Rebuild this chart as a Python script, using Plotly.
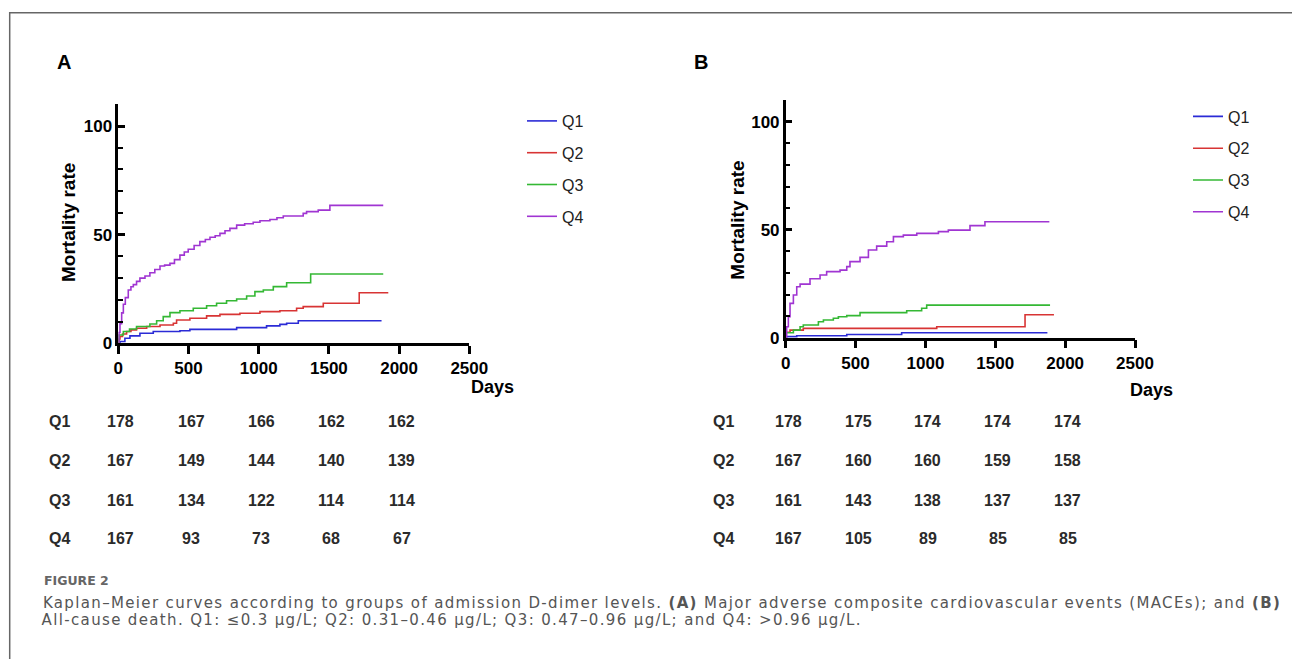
import plotly.graph_objects as go

W, H = 1292, 659

# ---------------- data ----------------
groups = ["Q1", "Q2", "Q3", "Q4"]
colors = ["#2b2bd6", "#d83434", "#34b834", "#a035d2"]

# Panel A (MACEs)
a_q1_days = [0, 12, 47, 83, 154, 249, 439, 510, 843, 1056, 1151, 1199, 1282, 1875]
a_q1_rate = [0, 0.8, 2.3, 3.4, 4.6, 5.4, 5.8, 6.4, 7.2, 8.0, 8.7, 9.2, 10.4, 10.4]
a_q2_days = [0, 5, 12, 30, 59, 90, 130, 202, 297, 392, 415, 510, 629, 724, 866, 1009, 1151, 1270, 1317, 1460, 1716, 1923]
a_q2_rate = [0, 2.0, 3.1, 4.3, 5.4, 6.2, 6.9, 7.7, 8.4, 9.2, 10.7, 11.5, 12.6, 13.3, 13.8, 14.6, 15.0, 16.1, 16.9, 18.4, 23.3, 23.3]
a_q3_days = [0, 5, 36, 80, 130, 225, 273, 320, 368, 439, 534, 629, 700, 771, 843, 914, 973, 1033, 1104, 1199, 1370, 1887]
a_q3_rate = [0, 3.8, 5.4, 6.6, 7.7, 8.9, 10.4, 12.3, 14.1, 15.0, 16.1, 17.3, 18.4, 19.6, 20.4, 21.8, 23.8, 24.5, 26.1, 27.9, 31.9, 31.9]
a_q4_days = [0, 5, 12, 24, 36, 50, 71, 90, 107, 130, 154, 190, 225, 260, 297, 330, 368, 400, 439, 470, 498, 540, 581,
             620, 653, 690, 724, 760, 795, 843, 900, 961, 1009, 1080, 1130, 1175, 1317, 1341, 1424, 1507, 1887]
a_q4_rate = [0, 5, 9, 14, 18, 21, 24.5, 26, 27, 28.5, 30, 31, 32.5, 34, 35.6, 36, 36.8, 38.5, 40.6, 42, 43.3, 45, 46.8,
             47.8, 48.8, 49.5, 50.6, 51.8, 52.9, 54.4, 55, 55.7, 56.4, 57, 57.8, 58.6, 59.8, 60.6, 61.3, 63.5, 63.5]

# Panel B (all-cause death)
b_q1_days = [0, 7, 79, 437, 830, 1873]
b_q1_rate = [0, 0.5, 0.9, 1.5, 2.3, 2.3]
b_q2_days = [0, 2, 31, 126, 1081, 1713, 1920]
b_q2_rate = [0, 2.5, 3.5, 4.3, 5.1, 10.6, 10.6]
b_q3_days = [0, 2, 55, 103, 126, 234, 270, 341, 377, 437, 532, 866, 973, 1009, 1892]
b_q3_rate = [0, 2.3, 3.5, 5.1, 5.9, 7.4, 8.2, 9.0, 9.7, 10.2, 11.6, 12.5, 13.6, 15.1, 15.1]
b_q4_days = [0, 7, 19, 31, 55, 79, 103, 174, 246, 293, 389, 437, 460, 532, 592, 651, 723, 771, 842, 938,
             1093, 1164, 1319, 1426, 1887]
b_q4_rate = [0, 5.1, 9.7, 15.9, 19.8, 23.6, 24.8, 27.3, 29.0, 30.6, 31.3, 32.9, 35.2, 37.2, 40.6, 42.4, 44.4,
             46.8, 47.5, 48.3, 49.1, 49.8, 51.9, 53.7, 53.7]

# Number at risk
risk_times = [0, 500, 1000, 1500, 2000]
a_risk = {"Q1": [178, 167, 166, 162, 162],
          "Q2": [167, 149, 144, 140, 139],
          "Q3": [161, 134, 122, 114, 114],
          "Q4": [167, 93, 73, 68, 67]}
b_risk = {"Q1": [178, 175, 174, 174, 174],
          "Q2": [167, 160, 160, 159, 158],
          "Q3": [161, 143, 138, 137, 137],
          "Q4": [167, 105, 89, 85, 85]}

x_ticks = [0, 500, 1000, 1500, 2000, 2500]
y_ticks = [0, 50, 100]

panel_a = [(a_q1_days, a_q1_rate), (a_q2_days, a_q2_rate), (a_q3_days, a_q3_rate), (a_q4_days, a_q4_rate)]
panel_b = [(b_q1_days, b_q1_rate), (b_q2_days, b_q2_rate), (b_q3_days, b_q3_rate), (b_q4_days, b_q4_rate)]

# ---------------- helpers ----------------
def px(x):
    return x / W

def py(y):
    return 1 - y / H

FONT = "Liberation Sans, Arial, sans-serif"
CAP_FONT = "DejaVu Sans, Open Sans, sans-serif"

fig = go.Figure()

for i, (d, r) in enumerate(panel_a):
    fig.add_trace(go.Scatter(x=d, y=r, mode="lines", line=dict(color=colors[i], width=1.6, shape="hv"),
                             name=groups[i], legend="legend", legendgroup="a" + groups[i],
                             xaxis="x", yaxis="y"))
for i, (d, r) in enumerate(panel_b):
    fig.add_trace(go.Scatter(x=d, y=r, mode="lines", line=dict(color=colors[i], width=1.6, shape="hv"),
                             name=groups[i], legend="legend2", legendgroup="b" + groups[i],
                             xaxis="x2", yaxis="y2"))

def xaxis(domain, anchor):
    return dict(domain=domain, anchor=anchor, range=[0, 2500], tickvals=x_ticks,
                showline=True, linecolor="black", linewidth=2.5, mirror=False,
                ticks="outside", ticklen=8, tickwidth=2.5, tickcolor="black",
                showgrid=False, zeroline=False, automargin=False,
                tickfont=dict(family=FONT, size=17, color="black", weight="bold"))

def yaxis(domain, anchor):
    return dict(domain=domain, anchor=anchor, range=[0, 110], tickvals=y_ticks,
                showline=True, linecolor="black", linewidth=2.5,
                ticks="inside", ticklen=7, tickwidth=2.5, tickcolor="black",
                minor=dict(dtick=10, tick0=0, ticks="inside", ticklen=5, tickwidth=2, tickcolor="black"),
                showgrid=False, zeroline=False, automargin=False,
                tickfont=dict(family=FONT, size=17, color="black", weight="bold"))

fig.update_layout(
    width=W, height=H, autosize=False, margin=dict(l=0, r=0, t=0, b=0, pad=0),
    paper_bgcolor="white", plot_bgcolor="white",
    xaxis=xaxis([px(118.3), px(469.3)], "y"),
    yaxis=yaxis([py(343.3), py(104.3)], "x"),
    xaxis2=xaxis([px(785.7), px(1135.0)], "y2"),
    yaxis2=yaxis([py(337.7), py(100.1)], "x2"),
    legend=dict(x=px(522), y=py(104), xanchor="left", yanchor="top", tracegroupgap=8,
                font=dict(family=FONT, size=16, color="#222"), bgcolor="rgba(0,0,0,0)"),
    legend2=dict(x=px(1188), y=py(99.5), xanchor="left", yanchor="top", tracegroupgap=8,
                 font=dict(family=FONT, size=16, color="#222"), bgcolor="rgba(0,0,0,0)"),
    showlegend=True,
)

ann = []
def add_text(x, y, text, size=16, bold=False, color="black", xanchor="center", textangle=0,
             family=FONT, xref="paper"):
    ann.append(dict(x=x, y=y, xref=xref, yref="paper", text=text, showarrow=False,
                    xanchor=xanchor, yanchor="middle", textangle=textangle, borderpad=0,
                    font=dict(family=family, size=size, color=color, weight="bold" if bold else "normal")))

# panel letters
add_text(px(64), py(62), "A", size=20, bold=True)
add_text(px(701), py(62), "B", size=20, bold=True)
# axis titles
add_text(px(68), py(223), "Mortality rate", size=19, bold=True, textangle=-90)
add_text(px(736.7), py(220), "Mortality rate", size=19, bold=True, textangle=-90)
add_text(px(492), py(387), "Days", size=18, bold=True)
add_text(px(1151), py(390), "Days", size=18, bold=True)

# number at risk tables
row_y = [421.7, 460.7, 500.0, 538.3]
for table, xr, lab_x in [(a_risk, "x", 59), (b_risk, "x2", 723)]:
    for gi, g in enumerate(groups):
        add_text(px(lab_x), py(row_y[gi]), g, size=16, bold=True, color="#2a2a2a")
        for t, v in zip(risk_times, table[g]):
            add_text(t + 18, py(row_y[gi]), str(v), size=16, bold=True, color="#2a2a2a", xref=xr)

# caption (centred so that the extra letter spacing grows evenly on both sides)
add_text(px(43), py(580.7), "FIGURE 2", size=12.5, bold=True, color="#666", xanchor="left", family=CAP_FONT)
add_text(px(662), py(602.5),
         "Kaplan\u2013Meier curves according to groups of admission D-dimer levels. <b>(A)</b> Major adverse "
         "composite cardiovascular events (MACEs); and <b>(B)</b>",
         size=15, color="#555", xanchor="center", family=CAP_FONT)
add_text(px(452), py(620.0),
         "All-cause death. Q1: \u22640.3 \u03bcg/L; Q2: 0.31\u20130.46 \u03bcg/L; Q3: 0.47\u20130.96 \u03bcg/L; "
         "and Q4: &gt;0.96 \u03bcg/L.",
         size=15, color="#555", xanchor="center", family=CAP_FONT)

fig.update_layout(annotations=ann)

# outer frame (top and left edges visible)
fig.add_shape(type="rect", xref="paper", yref="paper", x0=px(9.7), x1=1.05, y0=-0.05, y1=py(12.7),
              line=dict(color="#666", width=1.5), fillcolor="rgba(0,0,0,0)", layer="below")

n_ann = len(ann)
post = ("document.documentElement.style.margin='0';document.documentElement.style.overflow='hidden';"
        "document.body.style.margin='0';document.body.style.overflow='hidden';"
        "var st=document.createElement('style');"
        "st.textContent='g.annotation[data-index=\"%d\"] text, g.annotation[data-index=\"%d\"] text{letter-spacing:1.35px;}';"
        "document.head.appendChild(st);" % (n_ann - 2, n_ann - 1))

fig.write_html("out.html", config={"displayModeBar": False}, post_script=post)
